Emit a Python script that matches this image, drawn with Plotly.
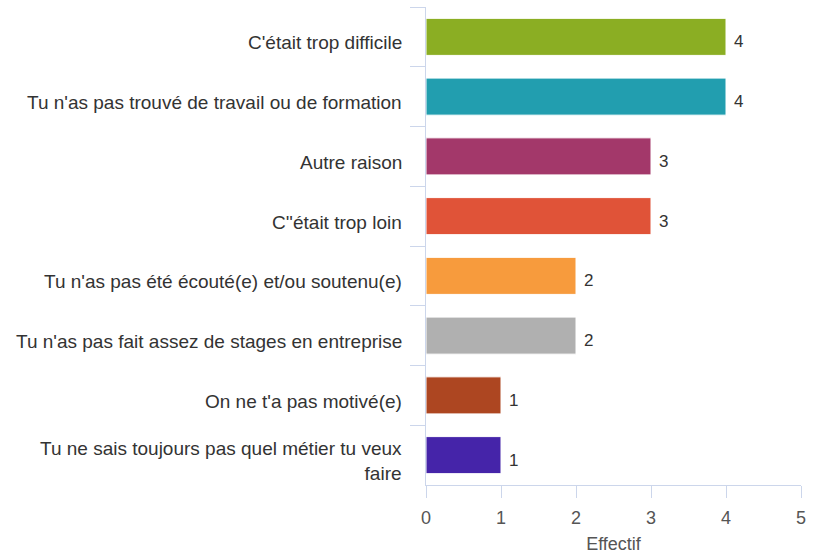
import plotly.graph_objects as go

# Reasons listed top to bottom, with their counts
categories = [
    "C'était trop difficile",
    "Tu n'as pas trouvé de travail ou de formation",
    "Autre raison",
    "C''était trop loin",
    "Tu n'as pas été écouté(e) et/ou soutenu(e)",
    "Tu n'as pas fait assez de stages en entreprise",
    "On ne t'a pas motivé(e)",
    "Tu ne sais toujours pas quel métier tu veux<br>faire",
]
counts = [4, 4, 3, 3, 2, 2, 1, 1]
colors = ["#8bae23", "#229eaf", "#a3386a", "#e05338",
          "#f79b3d", "#b0b0b0", "#ad4621", "#4524a9"]
x_ticks = [0, 1, 2, 3, 4, 5]

axis_color = "#ccd6eb"
font_family = "Liberation Sans, Arial, sans-serif"

fig = go.Figure(
    go.Bar(
        y=categories,
        x=counts,
        orientation="h",
        marker=dict(color=colors, line=dict(color="white", width=1)),
        hoverinfo="skip",
    )
)

# Category names, right-aligned left of the axis and set slightly low
for cat in categories:
    fig.add_annotation(
        x=0, y=cat, xref="x", yref="y",
        text=cat, showarrow=False,
        xanchor="right", yanchor="middle", align="right",
        xshift=-22, yshift=-6,
        font=dict(size=19, color="#333333", family=font_family),
    )

# Value labels just past the end of each bar
for cat, val in zip(categories, counts):
    fig.add_annotation(
        x=val, y=cat, xref="x", yref="y",
        text=str(val), showarrow=False,
        xanchor="left", yanchor="middle",
        xshift=6, yshift=-5,
        font=dict(size=17, color="#333333", family=font_family),
    )

fig.update_layout(
    width=818,
    height=557,
    margin=dict(l=426, r=17, t=7, b=70),
    paper_bgcolor="white",
    plot_bgcolor="white",
    bargap=0.38,
    showlegend=False,
    font=dict(family=font_family, color="#333333"),
)

fig.update_yaxes(
    categoryorder="array",
    categoryarray=categories,
    autorange="reversed",
    showline=True,
    linecolor=axis_color,
    linewidth=1,
    ticks="outside",
    tickson="boundaries",
    ticklen=15,
    tickcolor=axis_color,
    showgrid=False,
    zeroline=False,
    showticklabels=False,
)

fig.update_xaxes(
    range=[0, 5],
    tickvals=x_ticks,
    showline=True,
    linecolor=axis_color,
    linewidth=1,
    ticks="outside",
    ticklen=12,
    tickcolor=axis_color,
    showgrid=False,
    zeroline=False,
    ticklabelstandoff=4,
    tickfont=dict(size=18, color="#555555", family=font_family),
    title=dict(text="Effectif", font=dict(size=18, color="#555555", family=font_family), standoff=10),
)

fig.write_html("out.html")
